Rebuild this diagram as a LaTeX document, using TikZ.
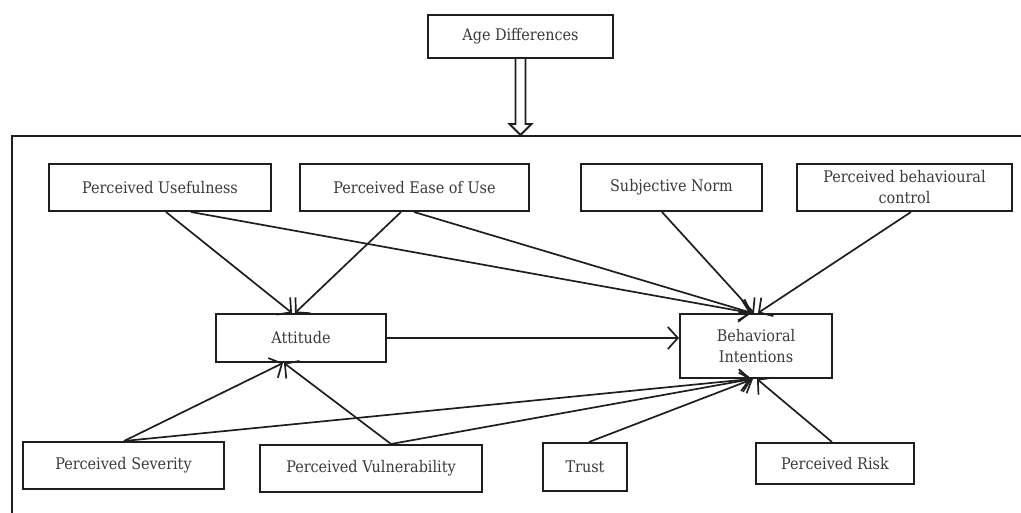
\documentclass[tikz,border=0pt]{standalone}
\usepackage{fontspec}
\setmainfont{DejaVu Serif Condensed}
\usetikzlibrary{arrows.meta,calc}
\definecolor{ink}{HTML}{1E1E1E}
\definecolor{txt}{HTML}{3A3A3A}
\begin{document}
\begin{tikzpicture}[x=1pt,y=-1pt,
  box/.style={draw=ink,line width=2pt,rectangle,inner sep=0pt,
    font=\fontsize{16}{21}\selectfont,text=txt,align=center},
  link/.style={draw=ink,line width=1.7pt,-{Straight Barb[length=10pt,width=22pt,line width=1.7pt]}}]
\useasboundingbox (0,0) rectangle (1021,512);
% outer frame, open towards the right and bottom edges
\begin{scope}
\clip (0,0) rectangle (1021,512);
\draw[ink,line width=2pt] (12,530) -- (12,136) -- (1040,136);
\end{scope}
% boxes
\node[box,minimum width=185pt,minimum height=43pt] (age) at (520.5,36.5) {Age Differences};
\node[box,minimum width=222pt,minimum height=47pt] (pu) at (160,187.5) {Perceived Usefulness};
\node[box,minimum width=229pt,minimum height=47pt] (peou) at (414.5,187.5) {Perceived Ease of Use};
\node[box,minimum width=181pt,minimum height=47pt] (sn) at (671.5,187.5) {Subjective Norm};
\node[box,minimum width=215pt,minimum height=47pt] (pbc) at (904.5,187.5) {Perceived behavioural\\control};
\node[box,minimum width=170pt,minimum height=48pt] (att) at (301,338) {Attitude};
\node[box,minimum width=152pt,minimum height=64pt] (bi) at (756,346) {Behavioral\\Intentions};
\node[box,minimum width=201pt,minimum height=47pt] (ps) at (123.5,465.5) {Perceived Severity};
\node[box,minimum width=222pt,minimum height=47pt] (pv) at (371,468.5) {Perceived Vulnerability};
\node[box,minimum width=84pt,minimum height=48pt] (tr) at (585,467) {Trust};
\node[box,minimum width=158pt,minimum height=41pt] (pr) at (835,463.5) {Perceived Risk};
% hollow arrow from age differences into the frame
\draw[ink,line width=1.8pt,fill=white]
  ($(age.south)+(-5,0)$) -- ($(age.south)+(-5,65)$) -- ($(age.south)+(-11,65)$)
  -- ($(age.south)+(0,76)$) -- ($(age.south)+(11,65)$) -- ($(age.south)+(5,65)$)
  -- ($(age.south)+(5,0)$);
% connectors
\draw[link] ($(pu.south west)+(118,0)$) -- ($(att.north west)+(77,0)$);
\draw[link] ($(peou.south west)+(102,0)$) -- ($(att.north west)+(80,0)$);
\draw[link] ($(pu.south west)+(143,0)$) -- ($(bi.north west)+(72,0)$);
\draw[link] ($(peou.south west)+(115,0)$) -- ($(bi.north west)+(73,0)$);
\draw[link] ($(sn.south west)+(82,0)$) -- ($(bi.north west)+(75,0)$);
\draw[link] ($(pbc.south west)+(115,0)$) -- ($(bi.north west)+(79,0)$);
\draw[link] (att.east) -- (bi.west |- att.east);
\draw[link] ($(ps.north west)+(102,0)$) -- ($(att.south west)+(68,0)$);
\draw[link] ($(pv.north west)+(132,0)$) -- ($(att.south west)+(69,0)$);
\draw[link] ($(ps.north west)+(102,0)$) -- ($(bi.south west)+(72,0)$);
\draw[link] ($(pv.north west)+(132,0)$) -- ($(bi.south west)+(73,0)$);
\draw[link] ($(tr.north west)+(47,0)$) -- ($(bi.south west)+(74,0)$);
\draw[link] ($(pr.north west)+(77,0)$) -- ($(bi.south west)+(78,0)$);
\end{tikzpicture}
\end{document}
